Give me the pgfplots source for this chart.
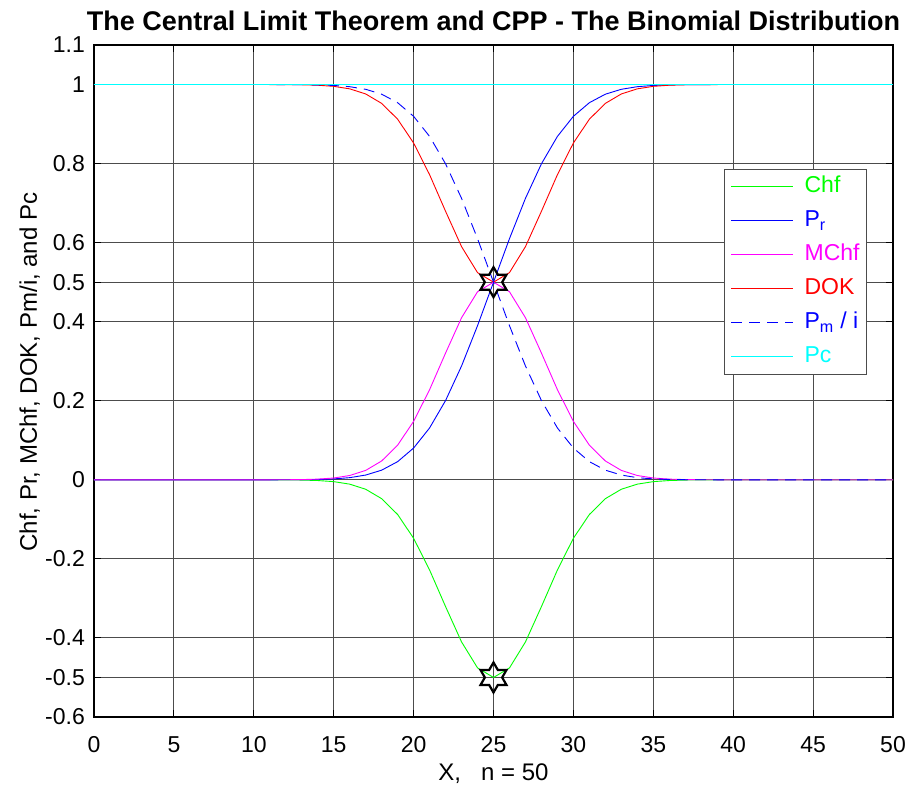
\documentclass[border=0pt]{standalone}
\usepackage{fontspec}
\setmainfont{Liberation Sans}
\usepackage{pgfplots}
\pgfplotsset{compat=1.18}
\usepackage{pgfplotstable}

\definecolor{cGreen}{rgb}{0,1,0}
\definecolor{cBlue}{rgb}{0,0,1}
\definecolor{cMag}{rgb}{1,0,1}
\definecolor{cRed}{rgb}{1,0,0}
\definecolor{cCyan}{rgb}{0,1,1}

\pgfdeclareplotmark{hexagram}{%
 \pgfpathmoveto{\pgfpointpolar{90}{\pgfplotmarksize}}%
 \pgfpathlineto{\pgfpointpolar{120}{0.57735\pgfplotmarksize}}%
 \pgfpathlineto{\pgfpointpolar{150}{\pgfplotmarksize}}%
 \pgfpathlineto{\pgfpointpolar{180}{0.57735\pgfplotmarksize}}%
 \pgfpathlineto{\pgfpointpolar{210}{\pgfplotmarksize}}%
 \pgfpathlineto{\pgfpointpolar{240}{0.57735\pgfplotmarksize}}%
 \pgfpathlineto{\pgfpointpolar{270}{\pgfplotmarksize}}%
 \pgfpathlineto{\pgfpointpolar{300}{0.57735\pgfplotmarksize}}%
 \pgfpathlineto{\pgfpointpolar{330}{\pgfplotmarksize}}%
 \pgfpathlineto{\pgfpointpolar{0}{0.57735\pgfplotmarksize}}%
 \pgfpathlineto{\pgfpointpolar{30}{\pgfplotmarksize}}%
 \pgfpathlineto{\pgfpointpolar{60}{0.57735\pgfplotmarksize}}%
 \pgfpathclose
 \pgfusepathqstroke}

\pgfplotstableread{
x pr pm chf mchf dok pc
0 0 1 0 0 1 1
1 0 1 0 0 1 1
2 0 1 0 0 1 1
3 0 1 0 0 1 1
4 0 1 0 0 1 1
5 0 1 0 0 1 1
6 0 1 0 0 1 1
7 0 1 0 0 1 1
8 0 1 0 0 1 1
9 0 1 0 0 1 1
10 0.00001 0.99999 -0.00002 0.00002 0.99998 1
11 0.00003 0.99997 -0.00006 0.00006 0.99994 1
12 0.0001 0.9999 -0.0002 0.0002 0.9998 1
13 0.000311 0.999689 -0.000622 0.000622 0.999378 1
14 0.000885 0.999115 -0.001768 0.001768 0.998232 1
15 0.002301 0.997699 -0.004591 0.004591 0.995409 1
16 0.005487 0.994513 -0.010914 0.010914 0.989086 1
17 0.012046 0.987954 -0.023802 0.023802 0.976198 1
18 0.024437 0.975563 -0.047680 0.047680 0.952320 1
19 0.045957 0.954043 -0.087690 0.087690 0.912310 1
20 0.080390 0.919610 -0.147855 0.147855 0.852145 1
21 0.131219 0.868781 -0.228002 0.228002 0.771998 1
22 0.200531 0.799469 -0.320637 0.320637 0.679363 1
23 0.287925 0.712075 -0.410048 0.410048 0.589952 1
24 0.389885 0.610115 -0.475749 0.475749 0.524251 1
25 0.5 0.5 -0.5 0.5 0.5 1
26 0.610115 0.389885 -0.475749 0.475749 0.524251 1
27 0.712075 0.287925 -0.410048 0.410048 0.589952 1
28 0.799469 0.200531 -0.320637 0.320637 0.679363 1
29 0.868781 0.131219 -0.228002 0.228002 0.771998 1
30 0.919610 0.080390 -0.147855 0.147855 0.852145 1
31 0.954043 0.045957 -0.087690 0.087690 0.912310 1
32 0.975563 0.024437 -0.047680 0.047680 0.952320 1
33 0.987954 0.012046 -0.023802 0.023802 0.976198 1
34 0.994513 0.005487 -0.010914 0.010914 0.989086 1
35 0.997699 0.002301 -0.004591 0.004591 0.995409 1
36 0.999115 0.000885 -0.001768 0.001768 0.998232 1
37 0.999689 0.000311 -0.000622 0.000622 0.999378 1
38 0.9999 0.0001 -0.0002 0.0002 0.9998 1
39 0.99997 0.00003 -0.00006 0.00006 0.99994 1
40 0.99999 0.00001 -0.00002 0.00002 0.99998 1
41 1 0 0 0 1 1
42 1 0 0 0 1 1
43 1 0 0 0 1 1
44 1 0 0 0 1 1
45 1 0 0 0 1 1
46 1 0 0 0 1 1
47 1 0 0 0 1 1
48 1 0 0 0 1 1
49 1 0 0 0 1 1
50 1 0 0 0 1 1
}\data

\pgfplotstableread{
x y
25 0.5
25 -0.5
}\stars

\begin{document}
\begin{tikzpicture}
\begin{axis}[
  scale only axis,
  width=799pt, height=672pt,
  xmin=0, xmax=50, ymin=-0.6, ymax=1.1,
  xtick={0,5,...,50},
  ytick={-0.6,-0.5,-0.4,-0.2,0,0.2,0.4,0.5,0.6,0.8,1,1.1},
  yticklabels={-0.6,-0.5,-0.4,-0.2,0,0.2,0.4,0.5,0.6,0.8,1,1.1},
  xticklabels={0,5,10,15,20,25,30,35,40,45,50},
  grid=major,
  major grid style={black!70, line width=0.9pt},
  axis line style={black, line width=1.4pt},
  tick align=inside,
  major tick length=7pt,
  tick style={black, line width=1pt},
  tick label style={font=\fontsize{23}{27}\selectfont},
  xticklabel style={anchor=base, yshift=-35pt, inner sep=0pt},
  yticklabel style={anchor=east, xshift=-9pt, inner sep=0pt},
  legend style={at={(0.9675,0.8155)}, anchor=north east, draw=black!70, line width=0.9pt,
    font=\fontsize{23}{27}\selectfont, inner xsep=6pt, inner ysep=5pt, row sep=9pt, column sep=10pt,
    nodes={inner sep=1pt, text height=17pt, text depth=6pt}},
  legend cell align=left,
  legend image code/.code={\draw[#1, line width=0.9pt] plot coordinates {(0pt,0pt) (31pt,0pt) (62pt,0pt)};},
]
\addplot[cGreen, line width=0.9pt] table[x=x, y=chf] {\data};
\addlegendentry{\textcolor{cGreen}{Chf}}
\addplot[cBlue, line width=0.9pt] table[x=x, y=pr] {\data};
\addlegendentry{\textcolor{cBlue}{P\textsubscript{r}}}
\addplot[cMag, line width=0.9pt] table[x=x, y=mchf] {\data};
\addlegendentry{\textcolor{cMag}{MChf}}
\addplot[cRed, line width=0.9pt] table[x=x, y=dok] {\data};
\addlegendentry{\textcolor{cRed}{DOK}}
\addplot[cBlue, line width=0.9pt, dash pattern=on 11pt off 7pt] table[x=x, y=pm] {\data};
\addlegendentry{\textcolor{cBlue}{P\textsubscript{m} / i}}
\addplot[cCyan, line width=0.9pt] table[x=x, y=pc] {\data};
\addlegendentry{\textcolor{cCyan}{Pc}}
\addplot[only marks, mark=hexagram, mark size=15pt, mark options={draw=black, line width=2.2pt, line join=miter}, forget plot] table[x=x, y=y] {\stars};
\end{axis}
\node[anchor=base, font=\bfseries\fontsize{27}{32}\selectfont] at (399.5pt,686pt) {The Central Limit Theorem and CPP - The Binomial Distribution};
\node[anchor=base, font=\fontsize{24}{28}\selectfont] at (399.5pt,-63pt) {X,\ \ \ n = 50};
\node[anchor=base, rotate=90, font=\fontsize{24}{28}\selectfont] at (-57pt,345pt) {Chf, Pr, MChf, DOK, Pm/i, and Pc};
\pgfresetboundingbox
\useasboundingbox (-94pt,-76pt) rectangle (815pt,717pt);
\end{tikzpicture}
\end{document}
